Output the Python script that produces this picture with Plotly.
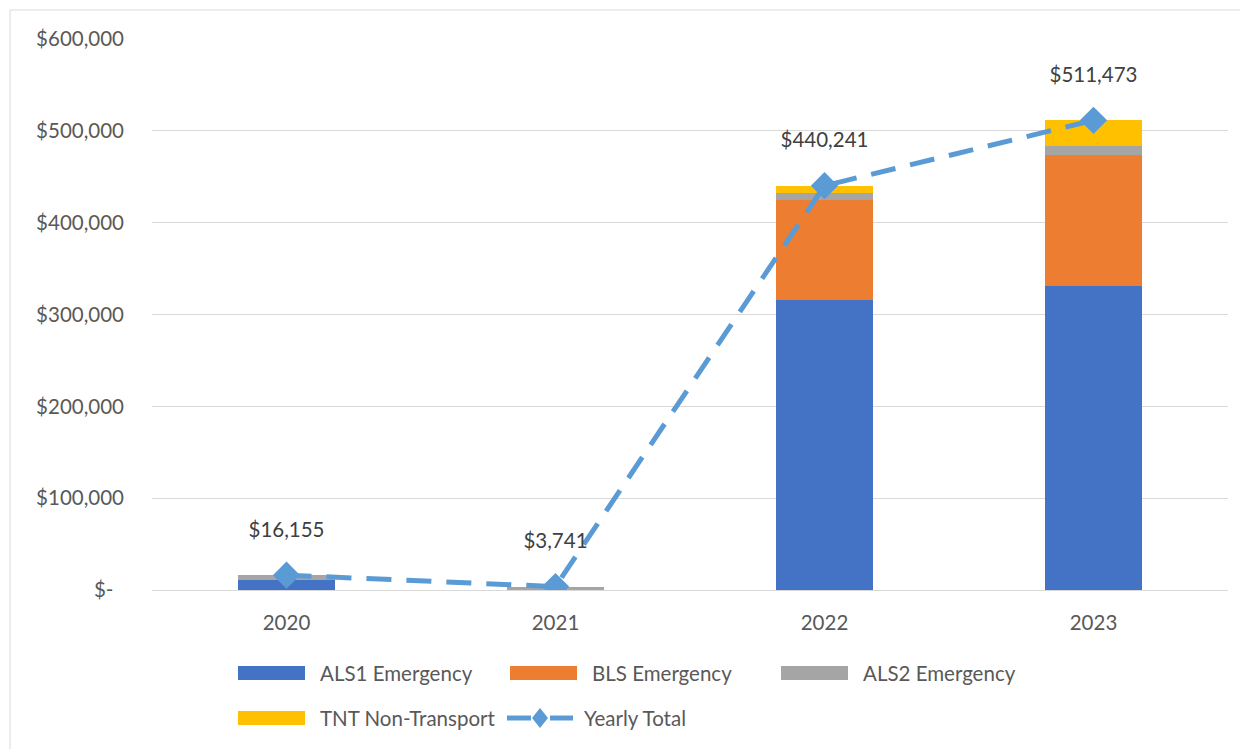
import plotly.graph_objects as go

years = ["2020", "2021", "2022", "2023"]
als1 = [11000, 0, 315500, 331000]
bls = [0, 0, 109000, 143000]
als2 = [5155, 3741, 8000, 9500]
tnt = [0, 0, 7741, 27973]
totals = [16155, 3741, 440241, 511473]
total_labels = ["$16,155", "$3,741", "$440,241", "$511,473"]

y_ticks = [0, 100000, 200000, 300000, 400000, 500000, 600000]
y_tick_text = ["$-\u00a0\u00a0", "$100,000", "$200,000", "$300,000", "$400,000", "$500,000", "$600,000"]

FONT = "Lato"
FS = 20.5
TXT = "#595959"
LINE_COL = "#5B9BD5"

# figure is offset by the 8px body margin of the page
W, H = 1240, 741
ML, MR, MT, MB = 144, 20, 31, 159
PW, PH = W - ML - MR, H - MT - MB


def px_x(px):
    return (px - 8 - ML) / PW


def px_y(py):
    return (H - MB - (py - 8)) / PH


fig = go.Figure()
bar_series = [
    ("ALS1 Emergency", als1, "#4472C4"),
    ("BLS Emergency", bls, "#ED7D31"),
    ("ALS2 Emergency", als2, "#A5A5A5"),
    ("TNT Non-Transport", tnt, "#FFC000"),
]
for name, vals, col in bar_series:
    fig.add_trace(go.Bar(x=years, y=vals, name=name, marker=dict(color=col, line=dict(width=0)),
                         width=0.357, showlegend=False))

fig.add_trace(go.Scatter(x=years, y=totals, name="Yearly Total", mode="lines+markers",
                         line=dict(color=LINE_COL, width=5, dash="25px,15px"),
                         marker=dict(symbol="diamond", size=21, color=LINE_COL),
                         showlegend=False))

# value labels above the total points
fig.add_trace(go.Scatter(x=years, y=totals, mode="markers+text", text=total_labels,
                         textposition="top center",
                         marker=dict(size=52, opacity=0),
                         textfont=dict(family=FONT, size=FS, color="#404040"),
                         showlegend=False, hoverinfo="skip"))

# custom legend (Excel-like wide swatches, two rows)
shapes = [dict(type="rect", xref="paper", yref="paper", x0=px_x(10), x1=px_x(1260), y0=px_y(770),
               y1=px_y(10), line=dict(color="#D9D9D9", width=1), fillcolor="rgba(0,0,0,0)",
               layer="below")]
annotations = []
legend_items = [
    (bar_series[0][0], bar_series[0][2], 238, 673, "bar"),
    (bar_series[1][0], bar_series[1][2], 510, 673, "bar"),
    (bar_series[2][0], bar_series[2][2], 781, 673, "bar"),
    (bar_series[3][0], bar_series[3][2], 238, 718, "bar"),
    ("Yearly Total", LINE_COL, 507, 718, "line"),
]
for name, col, lx, ly, kind in legend_items:
    if kind == "bar":
        shapes.append(dict(type="rect", xref="paper", yref="paper", x0=px_x(lx), x1=px_x(lx + 67),
                           y0=px_y(ly + 7), y1=px_y(ly - 7), line=dict(width=0), fillcolor=col))
        tx = lx + 80
    else:
        shapes.append(dict(type="line", xref="paper", yref="paper", x0=px_x(lx), x1=px_x(lx + 24),
                           y0=px_y(ly), y1=px_y(ly), line=dict(color=col, width=5)))
        shapes.append(dict(type="line", xref="paper", yref="paper", x0=px_x(lx + 43), x1=px_x(lx + 66),
                           y0=px_y(ly), y1=px_y(ly), line=dict(color=col, width=5)))
        shapes.append(dict(type="path", xref="paper", yref="paper",
                           path=f"M {px_x(lx + 33)},{px_y(ly - 10)} L {px_x(lx + 41)},{px_y(ly)} "
                                f"L {px_x(lx + 33)},{px_y(ly + 10)} L {px_x(lx + 25)},{px_y(ly)} Z",
                           line=dict(width=0), fillcolor=col))
        tx = lx + 75
    annotations.append(dict(xref="paper", yref="paper", x=px_x(tx), y=px_y(ly), text=name,
                            xanchor="left", yanchor="middle", showarrow=False,
                            font=dict(family=FONT, size=FS, color=TXT)))

fig.update_layout(
    width=W, height=H,
    margin=dict(l=ML, r=MR, t=MT, b=MB, autoexpand=False),
    barmode="stack",
    plot_bgcolor="white", paper_bgcolor="white",
    font=dict(family=FONT, size=FS, color=TXT),
    showlegend=False,
    shapes=shapes,
    annotations=annotations,
    xaxis=dict(type="category", range=[-0.5, 3.5], showgrid=False, showline=True,
               linecolor="#D9D9D9", linewidth=1, ticks="", ticklabelstandoff=14,
               tickfont=dict(family=FONT, size=FS, color=TXT)),
    yaxis=dict(range=[0, 600000], tickvals=y_ticks, ticktext=y_tick_text, showgrid=True,
               gridcolor="#D9D9D9", gridwidth=1, zeroline=False, showline=False, ticks="",
               ticklabelstandoff=27, tickfont=dict(family=FONT, size=FS, color=TXT)),
)

fig.write_html("out.html")
